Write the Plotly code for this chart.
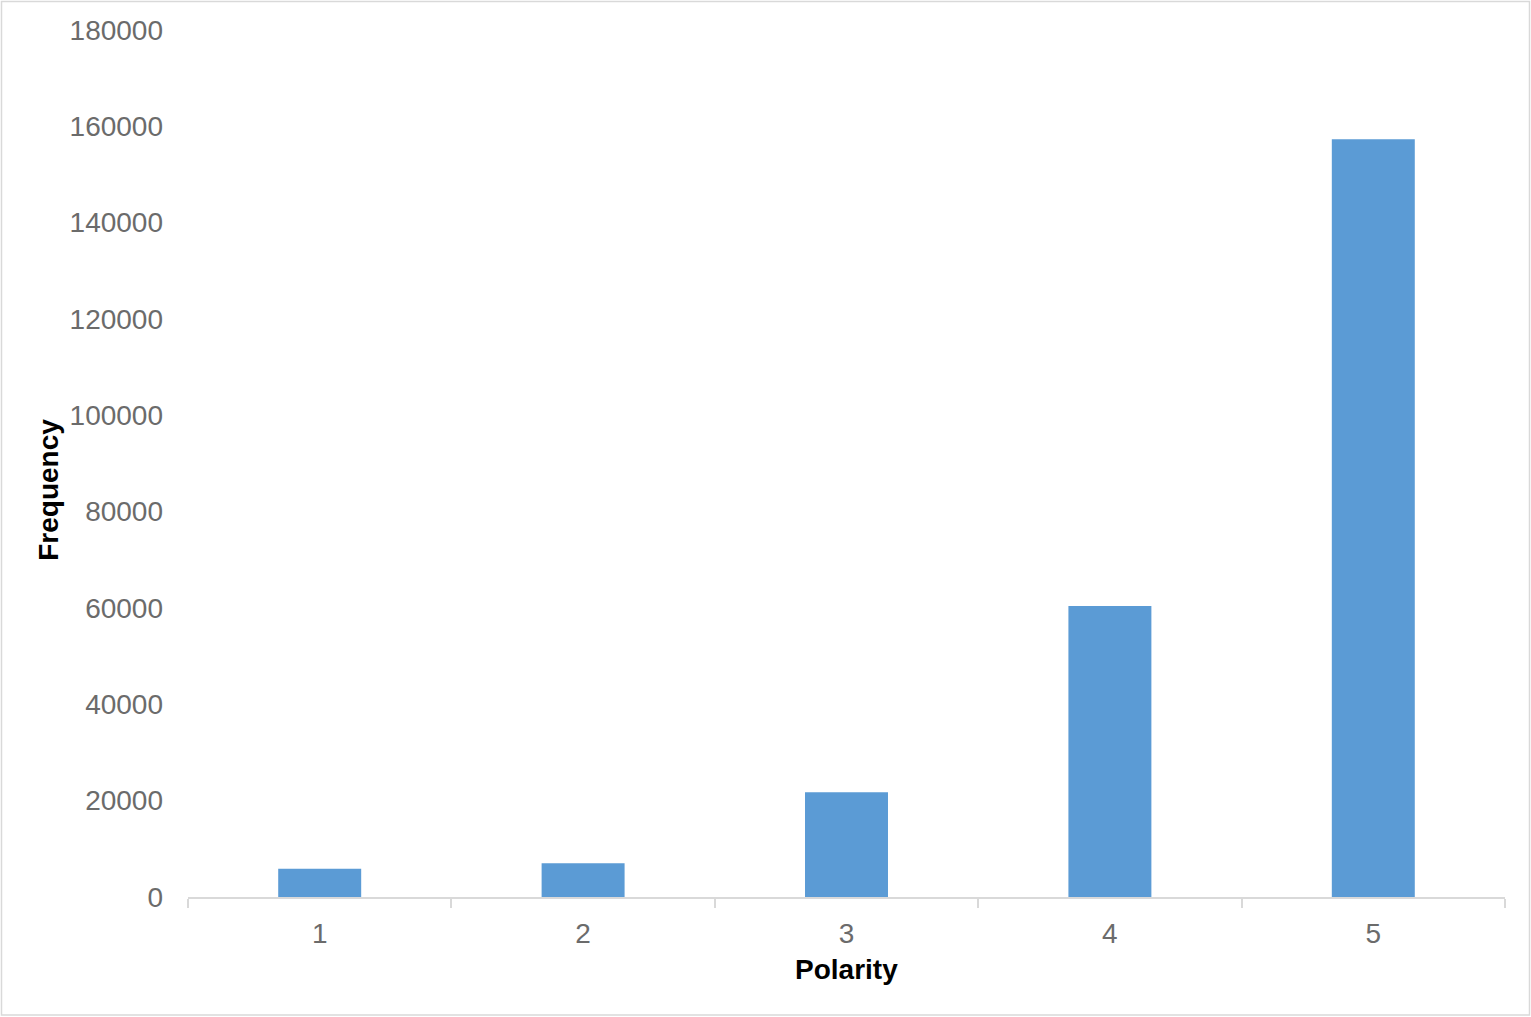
import plotly.graph_objects as go

categories = ["1", "2", "3", "4", "5"]
frequency = [5850, 7000, 21750, 60400, 157300]
y_ticks = [0, 20000, 40000, 60000, 80000, 100000, 120000, 140000, 160000, 180000]
y_tick_labels = [str(v) for v in y_ticks]

W, H = 1531, 1017
L, R, T, B = 188, 26, 30, 119.5
pw, ph = W - L - R, H - T - B

def px2x(px):
    return (px - L) / pw

def py2y(py):
    return (H - B - py) / ph

fig = go.Figure(go.Bar(
    x=categories, y=frequency,
    marker=dict(color="#5B9BD5", line=dict(width=0)),
))

font_family = "Liberation Sans, Arial, sans-serif"
tick_color = "#6b6b6b"

fig.update_layout(
    width=W, height=H,
    margin=dict(l=L, r=R, t=T, b=B, autoexpand=False),
    paper_bgcolor="white", plot_bgcolor="white",
    bargap=0.685,
    showlegend=False,
    font=dict(family=font_family, size=28, color=tick_color),
    xaxis=dict(
        type="category", range=[-0.5, 4.5],
        showline=True, linecolor="#d9d9d9", linewidth=1.5,
        ticks="outside", tickson="boundaries", ticklen=9, tickcolor="#d9d9d9", tickwidth=1.5,
        showgrid=False, zeroline=False,
        ticklabelstandoff=11,
        tickfont=dict(size=28, color=tick_color),
    ),
    yaxis=dict(
        range=[0, 180000], tickvals=y_ticks, ticktext=y_tick_labels,
        showgrid=False, zeroline=False, showline=False,
        ticks="", ticklabelstandoff=24,
        tickfont=dict(size=28, color=tick_color),
    ),
    annotations=[
        dict(text="<b>Frequency</b>", textangle=-90, xref="paper", yref="paper",
             x=px2x(49), y=py2y(490), showarrow=False, xanchor="center", yanchor="middle",
             font=dict(size=28, color="black", family=font_family)),
        dict(text="<b>Polarity</b>", xref="paper", yref="paper",
             x=px2x(846.5), y=py2y(970), showarrow=False, xanchor="center", yanchor="middle",
             font=dict(size=28, color="black", family=font_family)),
    ],
    shapes=[
        dict(type="rect", xref="paper", yref="paper",
             x0=px2x(1.5), x1=px2x(1529.5), y0=py2y(1015.5), y1=py2y(1.5),
             line=dict(color="#d9d9d9", width=1.5), fillcolor="rgba(0,0,0,0)", layer="below"),
    ],
)

fig.write_html("out.html", config={"displayModeBar": False},
               post_script="document.body.style.margin='0';document.body.style.overflow='hidden';")
